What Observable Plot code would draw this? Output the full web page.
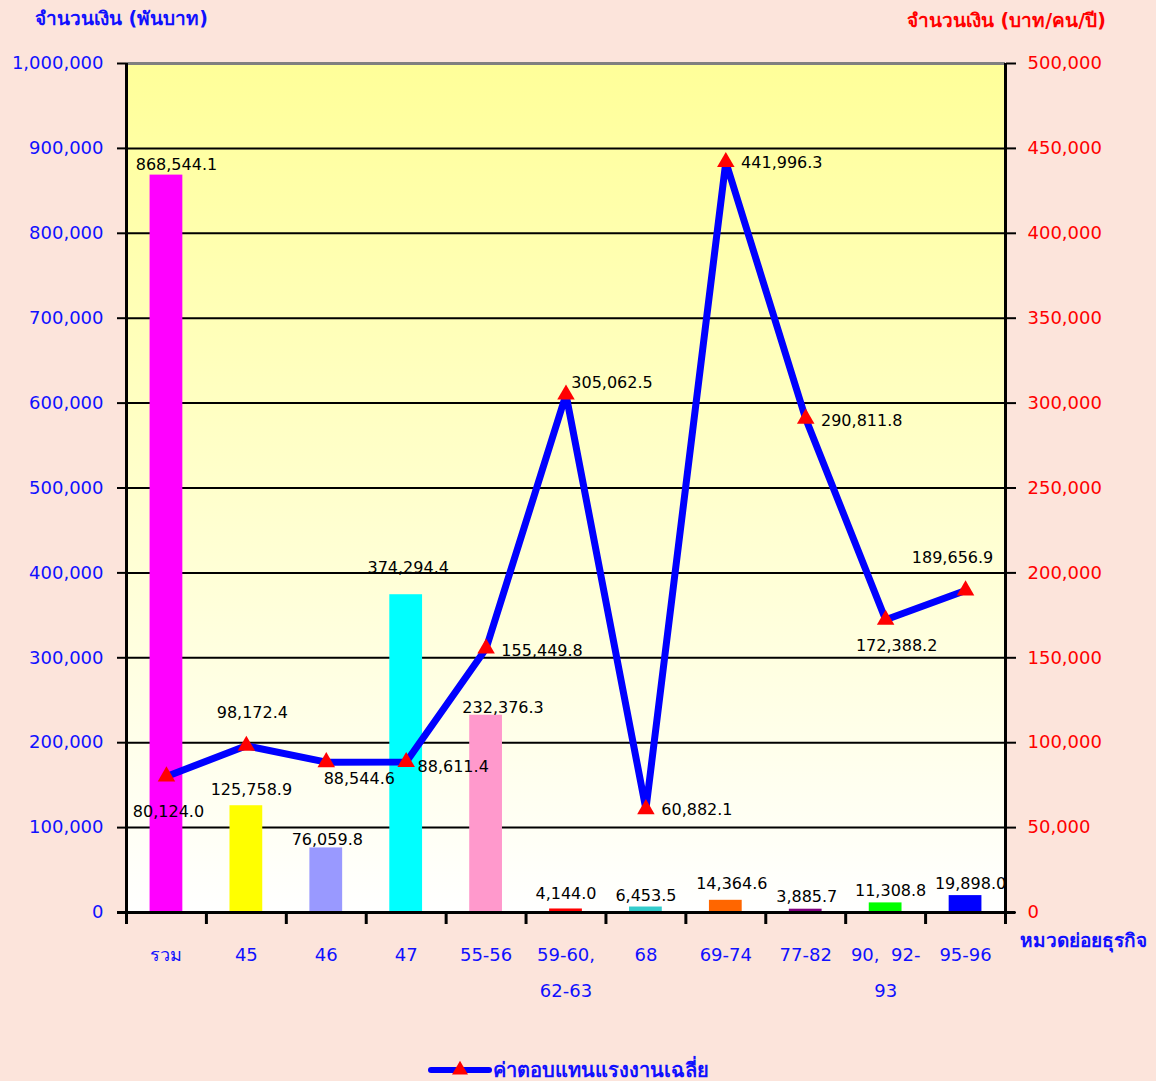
<!DOCTYPE html>
<html><head><meta charset="utf-8">
<script src="https://cdn.jsdelivr.net/npm/d3@7"></script>
<script src="https://cdn.jsdelivr.net/npm/@observablehq/plot@0.6"></script>
<style>
body{margin:0;background:#fce4db;font-family:"DejaVu Sans",Tahoma,"Noto Sans",sans-serif;}
#wrap{position:relative;width:1156px;height:1081px;overflow:hidden;}
.t{position:absolute;white-space:nowrap;line-height:20px;}
</style></head><body><div id="wrap"></div>
<script>
// ---- data ----
const categories = ["รวม","45","46","47","55-56","59-60,\n62-63","68","69-74","77-82","90,  92-\n93","95-96"];
const amounts = [868544.1,125758.9,76059.8,374294.4,232376.3,4144.0,6453.5,14364.6,3885.7,11308.8,19898.0];
const wages = [80124.0,98172.4,88544.6,88611.4,155449.8,305062.5,60882.1,441996.3,290811.8,172388.2,189656.9];
const leftTicks = d3.range(0, 1000001, 100000);
const rightTicks = d3.range(0, 500001, 50000);
const barColors = ["#ff00ff","#ffff00","#9999ff","#00ffff","#ff99cc","#ff0000","#33cccc","#ff6600","#800080","#00ff00","#0000ff"];
const leftTitle = "จำนวนเงิน (พันบาท)";
const rightTitle = "จำนวนเงิน (บาท/คน/ปี)";
const xTitle = "หมวดย่อยธุรกิจ";
const seriesName = "ค่าตอบแทนแรงงานเฉลี่ย";

// ---- layout (label nudges, px) ----
const barLabelDx = [10,5,1,2,17,0,0,6,1,5,5];
const barLabelDy = [-10,-16,-8,-27,-7,-15,-11,-16,-12,-12,-12];
const wageLabelDx = [2,6,33,47,56,46,51,56,56,11,-13];
const wageLabelDy = [35,-33,17,5,2,-12,1,1,2,26,-33];

const W = 1156, H = 1081, ML = 126, MR = 151, MT = 63, MB = 169;
const step = (W - ML - MR) / categories.length;
const ratio = 2; // right axis -> left axis units
const fmtInt = d3.format(",");
const fmt1 = d3.format(",.1f");

const data = categories.map((c, i) => ({
  cat: c, line1: c.split("\n")[0], line2: c.split("\n")[1] || "",
  amount: amounts[i], wage: wages[i], color: barColors[i]
}));

const marks = [
  Plot.frame({fill: "url(#bgGrad)", stroke: null}),
  Plot.ruleY(leftTicks.filter(d => d > 0 && d < 1000000), {stroke: "black", strokeWidth: 2}),
  Plot.ruleY([1000000], {stroke: "#808080", strokeWidth: 3}),
  Plot.barY(data, {x: "cat", y: "amount", fill: "color"}),
  // axis lines
  Plot.ruleX([categories[0]], {x: d => d, dx: -step / 2, y1: 0, y2: 1000000, stroke: "black", strokeWidth: 3}),
  Plot.ruleX([categories[categories.length - 1]], {x: d => d, dx: step / 2, y1: 0, y2: 1000000, stroke: "black", strokeWidth: 3}),
  Plot.ruleY([0], {stroke: "black", strokeWidth: 3, insetLeft: -9, insetRight: -10}),
  // x ticks at band edges
  Plot.ruleX(categories, {x: d => d, dx: -step / 2, y1: 0, y2: 0, insetBottom: -12, stroke: "black", strokeWidth: 3}),
  Plot.ruleX([categories[categories.length - 1]], {x: d => d, dx: step / 2, y1: 0, y2: 0, insetBottom: -12, stroke: "black", strokeWidth: 3}),
  // y axes
  Plot.axisY(leftTicks, {anchor: "left", tickSize: 9, tickPadding: 14, tickFormat: fmtInt, fill: "#1010ff", stroke: "black", strokeWidth: 2, fontSize: 18, label: null}),
  Plot.axisY(rightTicks.map(r => r * ratio), {anchor: "right", tickSize: 10, tickPadding: 12, tickFormat: d => fmtInt(d / ratio), fill: "#ff0000", stroke: "black", strokeWidth: 2, fontSize: 18, label: null}),
  // x labels
  Plot.text(data, {x: "cat", text: "line1", frameAnchor: "bottom", dy: 48, fill: "#1010ff", fontSize: 18}),
  Plot.text(data, {x: "cat", text: "line2", frameAnchor: "bottom", dy: 84, fill: "#1010ff", fontSize: 18}),
  // line
  Plot.line(data, {x: "cat", y: d => d.wage * ratio, stroke: "#0000ff", strokeWidth: 7, strokeLinejoin: "miter"}),
  Plot.dot(data, {x: "cat", y: d => d.wage * ratio, symbol: "triangle", fill: "#ff0000", r: 6.5}),
  // bar labels
  ...data.map((d, i) => Plot.text([d], {x: "cat", y: "amount", text: e => fmt1(e.amount), dx: barLabelDx[i], dy: barLabelDy[i], fill: "black", fontSize: 16})),
  // wage labels
  ...data.map((d, i) => Plot.text([d], {x: "cat", y: e => e.wage * ratio, text: e => fmt1(e.wage), dx: wageLabelDx[i], dy: wageLabelDy[i], fill: "black", fontSize: 16}))
];

const chart = Plot.plot({
  width: W, height: H,
  marginLeft: ML, marginRight: MR, marginTop: MT, marginBottom: MB,
  style: {background: "transparent", fontFamily: '"DejaVu Sans", Tahoma, sans-serif', fontSize: "16px"},
  x: {domain: categories, paddingInner: 0.59, paddingOuter: 0.295, round: false, axis: null},
  y: {domain: [0, 1000000], axis: null},
  color: {type: "identity"},
  marks
});

// gradient for plot area
const svg = d3.select(chart);
const grad = svg.insert("defs", ":first-child").append("linearGradient")
  .attr("id", "bgGrad").attr("x1", 0).attr("y1", 0).attr("x2", 0).attr("y2", 1);
grad.append("stop").attr("offset", "0%").attr("stop-color", "#ffff99");
grad.append("stop").attr("offset", "100%").attr("stop-color", "#ffffff");

const wrap = document.getElementById("wrap");
wrap.appendChild(chart);

function addText(txt, left, top, color, size, extra = "") {
  const el = document.createElement("div");
  el.className = "t";
  el.style.cssText = `left:${left}px;top:${top}px;color:${color};font-size:${size}px;${extra}`;
  el.textContent = txt;
  wrap.appendChild(el);
  return el;
}
addText(leftTitle, 35, 8, "#1010ff", 19, "font-weight:bold;");
addText(rightTitle, 907, 10, "#ff0000", 19, "font-weight:bold;");
addText(xTitle, 1020, 930, "#1010ff", 19, "font-weight:bold;");

// legend
const leg = document.createElement("div");
leg.style.cssText = "position:absolute;left:425px;top:1054px;display:flex;align-items:center;";
leg.innerHTML = `<svg width="68" height="24"><line x1="6" y1="12" x2="64" y2="12" stroke="#0000ff" stroke-width="6" stroke-linecap="round"/><path d="${d3.symbol(d3.symbolTriangle, 110)()}" transform="translate(35,12)" fill="#ff0000"/></svg><span style="color:#1010ff;font-size:20px;font-weight:bold;margin-left:0px;">${seriesName}</span>`;
wrap.appendChild(leg);
</script></body></html>
